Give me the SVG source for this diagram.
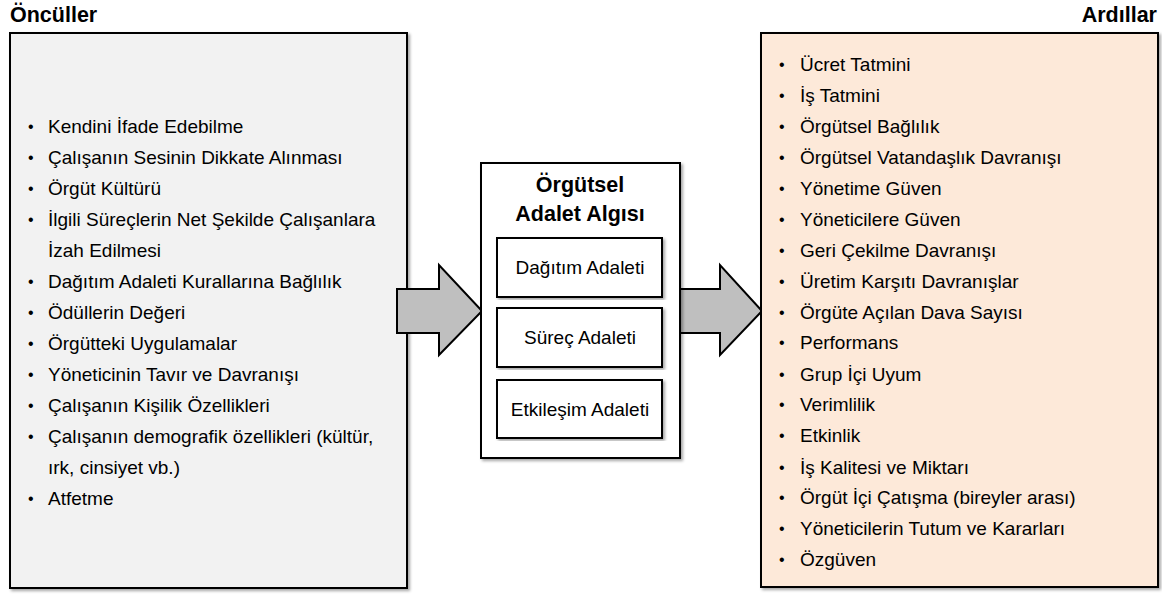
<svg xmlns="http://www.w3.org/2000/svg" width="1162" height="594" viewBox="0 0 1162 594">
<style>
.t{font-family:"Liberation Sans",Arial,sans-serif;font-size:19px;fill:#000}
.b{font-size:16px}
.h{font-family:"Liberation Sans",Arial,sans-serif;font-size:21.5px;font-weight:bold;fill:#000}
.c{font-family:"Liberation Sans",Arial,sans-serif;font-size:19px;fill:#000;text-anchor:middle}
.box{stroke:#000;stroke-width:2}
.arr{fill:#bfbfbf;stroke:#000;stroke-width:2;stroke-linejoin:miter}
</style>
<defs>
<filter id="sh" x="-5%" y="-5%" width="110%" height="110%">
<feDropShadow dx="2" dy="2" stdDeviation="1.5" flood-color="#000" flood-opacity="0.35"/>
</filter>
</defs>
<text class="h" x="10" y="22">Öncüller</text>
<text class="h" x="1157" y="22" text-anchor="end">Ardıllar</text>
<g id="oncul">
<rect class="box" x="10" y="33" width="397" height="555" fill="#f2f2f2" filter="url(#sh)"/>
<g class="t">
<text class="b" x="28" y="132">•</text><text x="48" y="133">Kendini İfade Edebilme</text>
<text class="b" x="28" y="163">•</text><text x="48" y="164">Çalışanın Sesinin Dikkate Alınması</text>
<text class="b" x="28" y="194">•</text><text x="48" y="195">Örgüt Kültürü</text>
<text class="b" x="28" y="225">•</text><text x="48" y="226">İlgili Süreçlerin Net Şekilde Çalışanlara</text>
<text x="48" y="257">İzah Edilmesi</text>
<text class="b" x="28" y="287">•</text><text x="48" y="288">Dağıtım Adaleti Kurallarına Bağlılık</text>
<text class="b" x="28" y="318">•</text><text x="48" y="319">Ödüllerin Değeri</text>
<text class="b" x="28" y="349">•</text><text x="48" y="350">Örgütteki Uygulamalar</text>
<text class="b" x="28" y="380">•</text><text x="48" y="381">Yöneticinin Tavır ve Davranışı</text>
<text class="b" x="28" y="411">•</text><text x="48" y="412">Çalışanın Kişilik Özellikleri</text>
<text class="b" x="28" y="442">•</text><text x="48" y="443">Çalışanın demografik özellikleri (kültür,</text>
<text x="48" y="474">ırk, cinsiyet vb.)</text>
<text class="b" x="28" y="504">•</text><text x="48" y="505">Atfetme</text>
</g>
</g>
<g id="connectors">
<polygon class="arr" points="397,289 439,289 439,265 482,311 439,355 439,333 397,333"/>
<polygon class="arr" points="678,289 720,289 720,265 762,311 720,355 720,333 678,333"/>
</g>
<g id="adalet">
<rect class="box" x="481" y="163" width="199" height="295" fill="#fff" filter="url(#sh)"/>
<text class="h" x="580" y="192" text-anchor="middle">Örgütsel</text>
<text class="h" x="580" y="221" text-anchor="middle">Adalet Algısı</text>
</g>
<g id="dagitim">
<rect class="box" x="497" y="238" width="165" height="59" fill="#fff" filter="url(#sh)"/>
<text class="c" x="580" y="274">Dağıtım Adaleti</text>
</g>
<g id="surec">
<rect class="box" x="497" y="308" width="165" height="59" fill="#fff" filter="url(#sh)"/>
<text class="c" x="580" y="344">Süreç Adaleti</text>
</g>
<g id="etkilesim">
<rect class="box" x="497" y="380" width="165" height="58" fill="#fff" filter="url(#sh)"/>
<text class="c" x="580" y="416">Etkileşim Adaleti</text>
</g>
<g id="ardil">
<rect class="box" x="761" y="33" width="397" height="554" fill="#fde9d9" filter="url(#sh)"/>
<g class="t">
<text class="b" x="779" y="70">•</text><text x="800" y="71">Ücret Tatmini</text>
<text class="b" x="779" y="101">•</text><text x="800" y="102">İş Tatmini</text>
<text class="b" x="779" y="132">•</text><text x="800" y="133">Örgütsel Bağlılık</text>
<text class="b" x="779" y="163">•</text><text x="800" y="164">Örgütsel Vatandaşlık Davranışı</text>
<text class="b" x="779" y="194">•</text><text x="800" y="195">Yönetime Güven</text>
<text class="b" x="779" y="225">•</text><text x="800" y="226">Yöneticilere Güven</text>
<text class="b" x="779" y="256">•</text><text x="800" y="257">Geri Çekilme Davranışı</text>
<text class="b" x="779" y="287">•</text><text x="800" y="288">Üretim Karşıtı Davranışlar</text>
<text class="b" x="779" y="318">•</text><text x="800" y="319">Örgüte Açılan Dava Sayısı</text>
<text class="b" x="779" y="348">•</text><text x="800" y="349">Performans</text>
<text class="b" x="779" y="380">•</text><text x="800" y="381">Grup İçi Uyum</text>
<text class="b" x="779" y="410">•</text><text x="800" y="411">Verimlilik</text>
<text class="b" x="779" y="441">•</text><text x="800" y="442">Etkinlik</text>
<text class="b" x="779" y="473">•</text><text x="800" y="474">İş Kalitesi ve Miktarı</text>
<text class="b" x="779" y="503">•</text><text x="800" y="504">Örgüt İçi Çatışma (bireyler arası)</text>
<text class="b" x="779" y="534">•</text><text x="800" y="535">Yöneticilerin Tutum ve Kararları</text>
<text class="b" x="779" y="565">•</text><text x="800" y="566">Özgüven</text>
</g>
</g>
</svg>
